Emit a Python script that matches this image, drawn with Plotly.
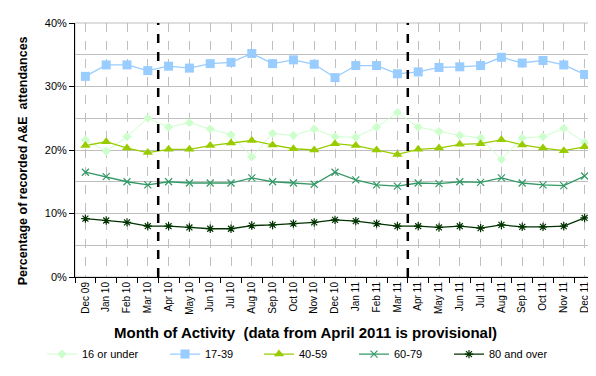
import plotly.graph_objects as go

months = ["Dec 09", "Jan 10", "Feb 10", "Mar 10", "Apr 10", "May 10", "Jun 10", "Jul 10",
          "Aug 10", "Sep 10", "Oct 10", "Nov 10", "Dec 10", "Jan 11", "Feb 11", "Mar 11",
          "Apr 11", "May 11", "Jun 11", "Jul 11", "Aug 11", "Sep 11", "Oct 11", "Nov 11", "Dec 11"]

age_16_under = [21.6, 19.8, 22.1, 25.0, 23.6, 24.3, 23.3, 22.4, 18.9, 22.6, 22.3, 23.3, 22.1,
                22.0, 23.6, 25.9, 23.6, 22.9, 22.3, 21.9, 18.5, 21.9, 22.1, 23.4, 21.2]
age_17_39 = [31.6, 33.4, 33.4, 32.5, 33.2, 32.9, 33.6, 33.8, 35.2, 33.6, 34.2, 33.5, 31.4,
             33.3, 33.3, 32.0, 32.3, 33.0, 33.1, 33.3, 34.6, 33.7, 34.1, 33.4, 31.9]
age_40_59 = [20.7, 21.3, 20.3, 19.6, 20.1, 20.1, 20.7, 21.1, 21.5, 20.8, 20.2, 20.0, 21.0,
             20.7, 20.0, 19.3, 20.1, 20.3, 20.9, 21.0, 21.6, 20.8, 20.3, 19.9, 20.5]
age_60_79 = [16.5, 15.8, 15.0, 14.5, 15.0, 14.8, 14.8, 14.8, 15.6, 15.0, 14.8, 14.6, 16.5,
             15.3, 14.5, 14.3, 14.8, 14.7, 15.0, 14.9, 15.6, 14.8, 14.5, 14.4, 15.9]
age_80_over = [9.2, 8.9, 8.6, 8.0, 8.0, 7.8, 7.6, 7.6, 8.1, 8.2, 8.4, 8.6, 9.0,
               8.8, 8.4, 8.0, 8.0, 7.8, 8.0, 7.7, 8.2, 7.9, 7.9, 8.0, 9.3]

series_names = ["16 or under", "17-39", "40-59", "60-79", "80 and over"]
divider_after = ["Mar 10", "Mar 11"]
x_title = "Month of Activity  (data from April 2011 is provisional)"
y_title = "Percentage of recorded A&E  attendances"

FONT = "Liberation Sans, Arial, sans-serif"
W, H = 596, 376
ML, MR, MT, MB = 67, 9, 12, 107
PW, PH = W - ML - MR, H - MT - MB


def px_x(p):
    return (p - ML) / PW


def px_y(p):
    return (H - MB - p) / PH


styles = [
    dict(color="#CCFFCC", symbol="diamond", size=7, lw=1),
    dict(color="#99CCFF", symbol="square", size=9, lw=1.3),
    dict(color="#99CC00", symbol="triangle-up", size=9, lw=1.3),
    dict(color="#339966", symbol="x-thin-open", size=7, lw=1.3),
    dict(color="#003300", symbol="asterisk-open", size=7, lw=1.3),
]
data = [age_16_under, age_17_39, age_40_59, age_60_79, age_80_over]
legend_ids = ["legend", "legend2", "legend3", "legend4", "legend5"]
legend_px = [34, 157, 251, 346, 441]

fig = go.Figure()
for name, vals, st, lid in zip(series_names, data, styles, legend_ids):
    marker = dict(symbol=st["symbol"], size=st["size"], color=st["color"])
    if "open" in st["symbol"]:
        marker["line"] = dict(color=st["color"], width=1.2)
    fig.add_trace(go.Scatter(
        x=months, y=[v / 100 for v in vals], name=name, mode="lines+markers",
        line=dict(color=st["color"], width=st["lw"]), marker=marker, legend=lid,
    ))

# helper trace for boundary tick marks on the x axis
fig.add_trace(go.Scatter(x=months, y=[None] * len(months), xaxis="x2", showlegend=False,
                         hoverinfo="skip"))

for m in divider_after:
    pos = months.index(m) + 0.5
    fig.add_shape(type="line", xref="x", yref="paper", x0=pos, x1=pos, y0=0, y1=1,
                  line=dict(color="black", width=2.5, dash="dash"), layer="above")

fig.add_shape(type="rect", xref="paper", yref="paper", x0=0, x1=1, y0=0, y1=1,
              line=dict(color="#BFBFBF", width=1), layer="below")

legends = {}
for lid, lx in zip(legend_ids, legend_px):
    legends[lid] = dict(orientation="h", x=px_x(lx), y=px_y(347), xanchor="left",
                        yanchor="middle", font=dict(family=FONT, size=11), itemwidth=30,
                        bgcolor="rgba(0,0,0,0)")

fig.add_annotation(text="<b>" + x_title + "</b>", xref="paper", yref="paper",
                   x=px_x(297), y=px_y(325), xanchor="center", yanchor="middle",
                   showarrow=False, font=dict(family=FONT, size=15))
fig.add_annotation(text="<b>" + y_title + "</b>", xref="paper", yref="paper",
                   x=px_x(15), y=px_y(152), xanchor="center", yanchor="middle",
                   textangle=-90, showarrow=False, font=dict(family=FONT, size=12.5))

fig.update_layout(
    width=W, height=H,
    margin=dict(l=ML, r=MR, t=MT, b=MB),
    paper_bgcolor="white", plot_bgcolor="white",
    font=dict(family=FONT, size=10, color="black"),
    showlegend=True,
    **legends,
    xaxis=dict(type="category", categoryorder="array", categoryarray=months,
               range=[-0.5, len(months) - 0.5],
               showgrid=True, gridcolor="#BFBFBF", griddash="dash", gridwidth=1,
               showline=True, linecolor="black", linewidth=1,
               ticks="", tickangle=-90, tickfont=dict(size=10)),
    xaxis2=dict(type="category", categoryorder="array", categoryarray=months,
                range=[-0.5, len(months) - 0.5], overlaying="x", side="bottom",
                matches="x", tickson="boundaries", ticks="outside", ticklen=5,
                tickcolor="black", showticklabels=False, showgrid=False, showline=False),
    yaxis=dict(range=[0, 0.40], dtick=0.1, tickformat=".0%",
               showgrid=True, gridcolor="#BFBFBF", gridwidth=1,
               minor=dict(dtick=0.05, showgrid=True, gridcolor="#BFBFBF", gridwidth=1),
               showline=True, linecolor="black", linewidth=1,
               ticks="outside", ticklen=5, tickcolor="black", tickfont=dict(size=11),
               zeroline=False),
)

fig.write_html("out.html")
